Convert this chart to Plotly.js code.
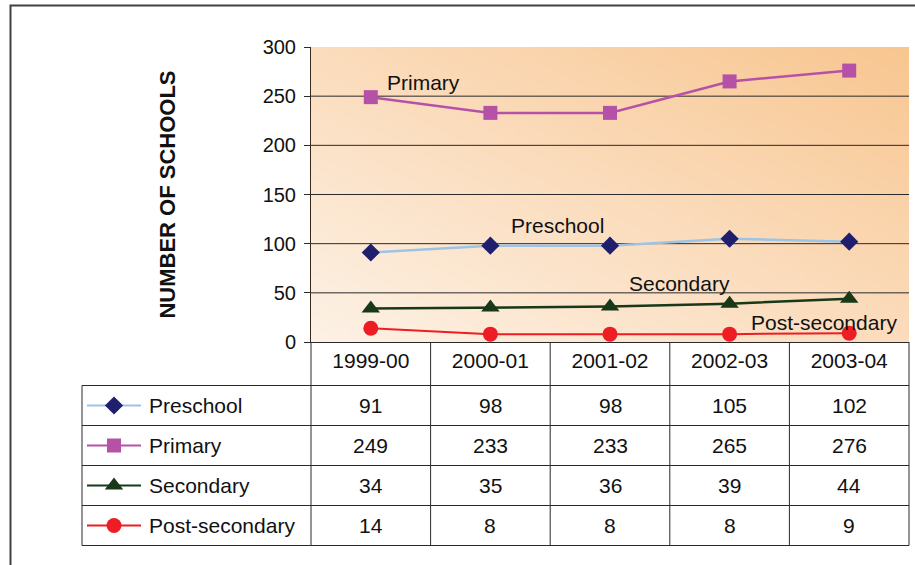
<!DOCTYPE html>
<html><head><meta charset="utf-8">
<script src="https://cdn.plot.ly/plotly-3.0.1.min.js"></script>
<style>html,body{margin:0;padding:0;background:#fff;}#chart{width:915px;height:565px;}</style>
</head><body><div id="chart"></div>
<script>
// ---- data ----
const years = ['1999-00','2000-01','2001-02','2002-03','2003-04'];
const seriesNames = ['Preschool','Primary','Secondary','Post-secondary'];
const preschool = [91,98,98,105,102];
const primary = [249,233,233,265,276];
const secondary = [34,35,36,39,44];
const postSecondary = [14,8,8,8,9];
const yTickVals = [0,50,100,150,200,250,300];
const yGridVals = [50,100,150,200,250];
const yTitle = 'NUMBER OF SCHOOLS';

// ---- styles / layout helpers ----
const W = 915, H = 565;
const FONT = 'Liberation Sans, Arial, sans-serif';
const px = x => x / W;
const py = y => 1 - y / H;
const plotL = 311, plotR = 909, plotT = 47, plotB = 342;
const tableL = 82, rowTop = 385.5, rowBot = 545.5;
const lineColor = '#2a2a2a';
const TXT = 21;

const styles = [
  {line:'#9dc3e6', marker:'#1f1f6e', symbol:'diamond', size:14, width:2.5},
  {line:'#b552a7', marker:'#b552a7', symbol:'square', size:14, width:2.5},
  {line:'#183818', marker:'#183818', symbol:'triangle-up', size:16, width:2.5},
  {line:'#ee1d24', marker:'#ee1d24', symbol:'circle', size:15, width:2}
];
const values = [preschool, primary, secondary, postSecondary];
// in-plot series labels (position in category index / value units)
const labelPos = [[1.557, 118], [0.443, 264], [2.582, 59], [3.787, 19.5]];

// gradient background image
function gradientURL(){
  const c = document.createElement('canvas');
  c.width = 256; c.height = 256;
  const g = c.getContext('2d');
  const gr = g.createLinearGradient(0, 256, 256, 0);
  gr.addColorStop(0, '#fdf2e6');
  gr.addColorStop(0.5, '#fbdcbc');
  gr.addColorStop(1, '#f8c690');
  g.fillStyle = gr; g.fillRect(0, 0, 256, 256);
  return c.toDataURL('image/png');
}

const traces = [];
values.forEach((v, i) => {
  const s = styles[i];
  traces.push({
    type:'scatter', mode:'lines+markers', name: seriesNames[i],
    x: years, y: v, xaxis:'x', yaxis:'y',
    line:{color:s.line, width:s.width},
    marker:{symbol:s.symbol, size:s.size, color:s.marker},
    showlegend:false, hoverinfo:'skip'
  });
  // legend key in the table: line part
  traces.push({
    type:'scatter', mode:'lines',
    x:[0,2], y:[seriesNames[i],seriesNames[i]],
    xaxis:'x2', yaxis:'y2',
    line:{color:s.line, width:2},
    showlegend:false, hoverinfo:'skip'
  });
  // legend key in the table: marker part
  traces.push({
    type:'scatter', mode:'markers',
    x:[1], y:[seriesNames[i]],
    xaxis:'x2', yaxis:'y2',
    marker:{symbol:s.symbol, size:s.size, color:s.marker},
    showlegend:false, hoverinfo:'skip', cliponaxis:false
  });
});

const annotations = [];
// series labels inside plot
seriesNames.forEach((n, i) => {
  annotations.push({text:n, x:labelPos[i][0], y:labelPos[i][1], xref:'x', yref:'y',
    showarrow:false, font:{family:FONT, size:TXT, color:'#111'}});
});
// table: row names and values
seriesNames.forEach((n, i) => {
  annotations.push({text:n, x:px(147), xref:'paper', xanchor:'left', y:n, yref:'y2',
    showarrow:false, font:{family:FONT, size:TXT, color:'#111'}});
  values[i].forEach((val, j) => {
    annotations.push({text:String(val), x:years[j], xref:'x', y:n, yref:'y2',
      showarrow:false, font:{family:FONT, size:TXT, color:'#111'}});
  });
});

const shapes = [];
// outer frame
shapes.push({type:'rect', xref:'paper', yref:'paper', x0:px(10.5), x1:px(918), y0:py(568), y1:py(5.5),
  line:{color:'#404040', width:2}, layer:'below'});
// gridlines
yGridVals.forEach(v => shapes.push({type:'line', xref:'paper', yref:'y', x0:px(plotL), x1:px(plotR), y0:v, y1:v,
  line:{color:lineColor, width:1}, layer:'between'}));
// table horizontal lines
const nRows = seriesNames.length;
for (let k = 0; k <= nRows; k++) {
  const yy = rowTop + k * (rowBot - rowTop) / nRows;
  shapes.push({type:'line', xref:'paper', yref:'paper', x0:px(tableL), x1:px(plotR), y0:py(yy), y1:py(yy),
    line:{color:lineColor, width:1}});
}
// table vertical lines
shapes.push({type:'line', xref:'paper', yref:'paper', x0:px(tableL), x1:px(tableL), y0:py(rowTop), y1:py(rowBot),
  line:{color:lineColor, width:1}});
for (let j = 0; j <= years.length; j++) {
  const xx = plotL + j * (plotR - plotL) / years.length;
  shapes.push({type:'line', xref:'paper', yref:'paper', x0:px(xx), x1:px(xx), y0:py(plotB), y1:py(rowBot),
    line:{color:lineColor, width:1}});
}

const layout = {
  width:W, height:H, margin:{l:0, r:0, t:0, b:0},
  paper_bgcolor:'#ffffff', plot_bgcolor:'rgba(0,0,0,0)',
  font:{family:FONT, size:20, color:'#111'},
  showlegend:false,
  xaxis:{domain:[px(plotL), px(plotR)], anchor:'y', type:'category', categoryarray:years,
    range:[-0.5, years.length - 0.5], showgrid:false, zeroline:false, showline:true,
    linecolor:lineColor, linewidth:1, ticks:'', tickfont:{size:TXT}, ticklabelstandoff:0, fixedrange:true},
  yaxis:{domain:[py(plotB), py(plotT)], anchor:'x', range:[0,300], tickvals:yTickVals,
    showgrid:false, zeroline:false, showline:true, linecolor:'#3a2a1a', linewidth:1,
    ticks:'outside', ticklen:6, tickcolor:lineColor, tickfont:{size:20}, ticklabelstandoff:4,
    title:{text:'<b>' + yTitle + '</b>', font:{size:22}, standoff:80}, fixedrange:true},
  xaxis2:{domain:[px(87), px(141)], anchor:'y2', range:[0,2], visible:false, fixedrange:true},
  yaxis2:{domain:[py(rowBot), py(rowTop)], anchor:'x2', type:'category', categoryarray:seriesNames,
    range:[nRows - 0.5, -0.5], visible:false, fixedrange:true},
  images:[{source:gradientURL(), xref:'paper', yref:'paper', x:px(plotL), y:py(plotT),
    sizex:px(plotR) - px(plotL), sizey:py(plotT) - py(plotB), sizing:'stretch', layer:'below',
    xanchor:'left', yanchor:'top'}],
  shapes:shapes, annotations:annotations
};

Plotly.newPlot('chart', traces, layout, {staticPlot:true, displayModeBar:false});
</script></body></html>
